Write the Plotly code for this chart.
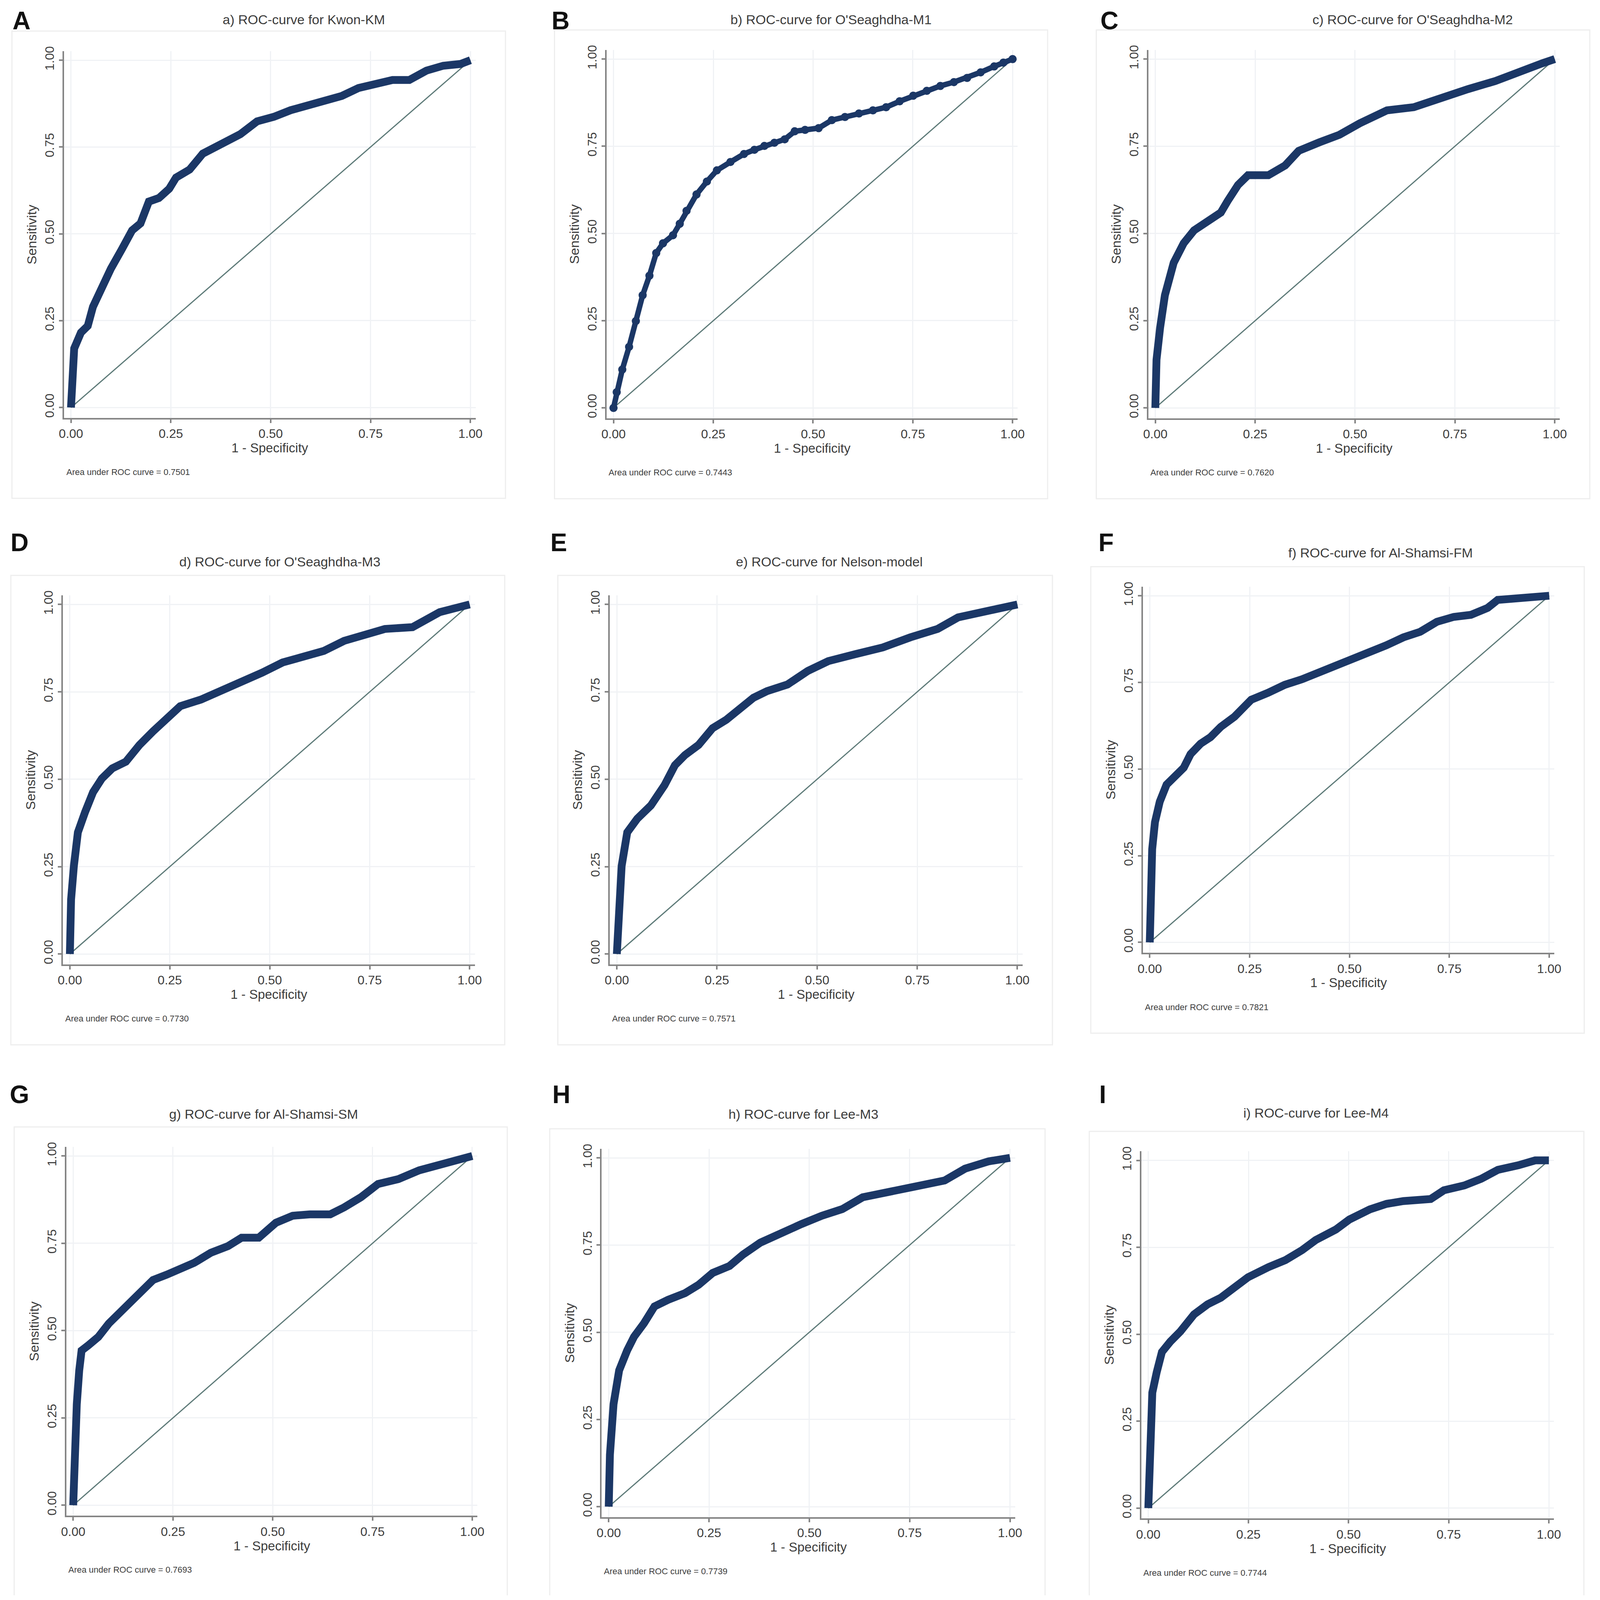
import plotly.graph_objects as go

# ---------------- data ----------------
panel_letters = ["A", "B", "C", "D", "E", "F", "G", "H", "I"]
panel_titles = [
    "a) ROC-curve for Kwon-KM",
    "b) ROC-curve for O'Seaghdha-M1",
    "c) ROC-curve for O'Seaghdha-M2",
    "d) ROC-curve for O'Seaghdha-M3",
    "e) ROC-curve for Nelson-model",
    "f) ROC-curve for Al-Shamsi-FM",
    "g) ROC-curve for Al-Shamsi-SM",
    "h) ROC-curve for Lee-M3",
    "i) ROC-curve for Lee-M4",
]
auc_values = ["0.7501", "0.7443", "0.7620", "0.7730", "0.7571", "0.7821", "0.7693", "0.7739", "0.7744"]
tick_values = [0, 0.25, 0.5, 0.75, 1.0]
tick_labels = ["0.00", "0.25", "0.50", "0.75", "1.00"]

fpr_a = [0, 0.008, 0.025, 0.042, 0.055, 0.076, 0.10, 0.127, 0.153, 0.174, 0.195, 0.22, 0.246, 0.263, 0.297, 0.33, 0.373, 0.424, 0.466, 0.508, 0.55, 0.593, 0.636, 0.678, 0.72, 0.763, 0.805, 0.847, 0.89, 0.932, 0.975, 1.0]
tpr_a = [0, 0.17, 0.216, 0.235, 0.29, 0.345, 0.40, 0.455, 0.51, 0.53, 0.593, 0.603, 0.63, 0.662, 0.685, 0.731, 0.759, 0.787, 0.824, 0.837, 0.856, 0.87, 0.888, 0.897, 0.92, 0.929, 0.943, 0.943, 0.97, 0.984, 0.989, 1.0]

fpr_b = [0, 0.008, 0.022, 0.039, 0.056, 0.073, 0.09, 0.107, 0.124, 0.149, 0.166, 0.183, 0.208, 0.234, 0.259, 0.293, 0.327, 0.353, 0.378, 0.403, 0.429, 0.454, 0.48, 0.514, 0.547, 0.58, 0.615, 0.65, 0.683, 0.717, 0.751, 0.785, 0.819, 0.853, 0.886, 0.92, 0.954, 0.977, 1.0]
tpr_b = [0, 0.045, 0.11, 0.175, 0.249, 0.323, 0.379, 0.444, 0.472, 0.495, 0.528, 0.565, 0.612, 0.649, 0.681, 0.705, 0.728, 0.74, 0.751, 0.76, 0.77, 0.793, 0.797, 0.802, 0.825, 0.834, 0.844, 0.853, 0.862, 0.879, 0.895, 0.909, 0.923, 0.934, 0.946, 0.962, 0.979, 0.99, 1.0]

fpr_c = [0, 0.003, 0.012, 0.024, 0.046, 0.071, 0.097, 0.131, 0.164, 0.181, 0.207, 0.232, 0.283, 0.325, 0.359, 0.41, 0.461, 0.512, 0.58, 0.647, 0.715, 0.783, 0.851, 0.919, 0.969, 1.0]
tpr_c = [0, 0.138, 0.23, 0.323, 0.416, 0.472, 0.509, 0.537, 0.56, 0.593, 0.639, 0.667, 0.667, 0.695, 0.737, 0.761, 0.783, 0.816, 0.853, 0.862, 0.89, 0.914, 0.937, 0.969, 0.988, 1.0]

fpr_d = [0, 0.003, 0.01, 0.02, 0.038, 0.058, 0.08, 0.106, 0.14, 0.174, 0.208, 0.242, 0.276, 0.328, 0.379, 0.43, 0.481, 0.532, 0.584, 0.635, 0.686, 0.737, 0.788, 0.857, 0.891, 0.925, 0.959, 1.0]
tpr_d = [0, 0.156, 0.252, 0.348, 0.406, 0.463, 0.502, 0.531, 0.55, 0.598, 0.637, 0.675, 0.709, 0.728, 0.752, 0.781, 0.805, 0.834, 0.853, 0.867, 0.896, 0.911, 0.93, 0.935, 0.954, 0.978, 0.988, 1.0]

fpr_e = [0, 0.005, 0.012, 0.026, 0.051, 0.085, 0.119, 0.145, 0.17, 0.204, 0.239, 0.273, 0.307, 0.341, 0.375, 0.426, 0.477, 0.528, 0.596, 0.664, 0.733, 0.801, 0.852, 0.92, 0.971, 1.0]
tpr_e = [0, 0.156, 0.252, 0.348, 0.387, 0.425, 0.483, 0.54, 0.569, 0.598, 0.646, 0.67, 0.704, 0.733, 0.752, 0.771, 0.81, 0.838, 0.858, 0.877, 0.906, 0.93, 0.963, 0.978, 0.992, 1.0]

fpr_f = [0, 0.002, 0.006, 0.013, 0.025, 0.042, 0.059, 0.085, 0.102, 0.127, 0.152, 0.178, 0.212, 0.254, 0.296, 0.338, 0.381, 0.423, 0.465, 0.508, 0.55, 0.592, 0.635, 0.677, 0.719, 0.761, 0.804, 0.846, 0.871, 0.931, 1.0]
tpr_f = [0, 0.151, 0.269, 0.347, 0.406, 0.455, 0.475, 0.504, 0.543, 0.573, 0.592, 0.622, 0.651, 0.70, 0.72, 0.743, 0.759, 0.778, 0.802, 0.822, 0.837, 0.857, 0.88, 0.896, 0.925, 0.939, 0.945, 0.965, 0.988, 0.994, 1.0]

fpr_g = [0, 0.003, 0.009, 0.015, 0.021, 0.038, 0.063, 0.089, 0.115, 0.149, 0.174, 0.20, 0.234, 0.268, 0.303, 0.345, 0.388, 0.422, 0.465, 0.508, 0.55, 0.593, 0.644, 0.679, 0.721, 0.764, 0.815, 0.867, 0.918, 0.961, 1.0]
tpr_g = [0, 0.193, 0.289, 0.385, 0.443, 0.458, 0.482, 0.52, 0.549, 0.588, 0.612, 0.645, 0.66, 0.674, 0.694, 0.723, 0.742, 0.766, 0.766, 0.809, 0.829, 0.833, 0.833, 0.853, 0.882, 0.92, 0.934, 0.959, 0.973, 0.987, 1.0]

fpr_h = [0, 0.003, 0.012, 0.026, 0.046, 0.063, 0.088, 0.114, 0.148, 0.19, 0.224, 0.259, 0.301, 0.335, 0.378, 0.429, 0.48, 0.531, 0.582, 0.633, 0.701, 0.769, 0.837, 0.888, 0.947, 1.0]
tpr_h = [0, 0.149, 0.294, 0.391, 0.448, 0.487, 0.526, 0.574, 0.593, 0.612, 0.636, 0.67, 0.69, 0.723, 0.757, 0.786, 0.81, 0.834, 0.853, 0.887, 0.902, 0.921, 0.935, 0.969, 0.99, 1.0]

fpr_i = [0, 0.002, 0.004, 0.01, 0.021, 0.034, 0.055, 0.08, 0.114, 0.148, 0.181, 0.215, 0.249, 0.30, 0.342, 0.384, 0.418, 0.468, 0.502, 0.553, 0.595, 0.637, 0.705, 0.738, 0.789, 0.831, 0.873, 0.924, 0.966, 1.0]
tpr_i = [0, 0.117, 0.234, 0.332, 0.391, 0.449, 0.479, 0.508, 0.557, 0.586, 0.605, 0.635, 0.664, 0.693, 0.713, 0.742, 0.771, 0.801, 0.83, 0.859, 0.875, 0.883, 0.889, 0.914, 0.928, 0.947, 0.973, 0.986, 1.0, 1.0]

curves = [(fpr_a, tpr_a), (fpr_b, tpr_b), (fpr_c, tpr_c), (fpr_d, tpr_d), (fpr_e, tpr_e),
          (fpr_f, tpr_f), (fpr_g, tpr_g), (fpr_h, tpr_h), (fpr_i, tpr_i)]

# ---------------- layout geometry (reference pixels, 4317 x 4382 canvas) ----------------
W, H = 4317, 4382
# pixel position of value 0 / 1 on each axis: (x at 0, x at 1, y at 1, y at 0)
frames = [
    (184, 1267, 157, 1113), (1655, 2737, 154, 1114), (3124, 4207, 154, 1114),
    (181, 1265, 1655, 2617), (1664, 2750, 1655, 2617), (3109, 4192, 1631, 2585),
    (190, 1272, 3173, 4134), (1642, 2730, 3178, 4138), (3105, 4191, 3185, 4142),
]
label_pos = [(50, 48), (1511, 48), (2999, 48), (44, 1485), (1507, 1485), (2990, 1485),
             (44, 3004), (1513, 3004), (2981, 3004)]
title_pos = [(815, 45), (2245, 45), (3822, 45), (750, 1537), (2240, 1537), (3734, 1513),
             (706, 3057), (2170, 3057), (3560, 3054)]

XR = [-0.0175, 1.013]
YR = [-0.03, 1.026]

NAVY = "#1b3766"
AXIS = "#858585"
TXT = "#3c3c3c"
FONT = "Liberation Sans, Arial, sans-serif"

fig = go.Figure()
layout = dict(
    autosize=True, margin=dict(l=0, r=0, t=0, b=0),
    paper_bgcolor="white", plot_bgcolor="white", showlegend=False,
    font=dict(family=FONT, color=TXT),
)
annotations = []
shapes = []

for i, ((fx, ty), fr) in enumerate(zip(curves, frames)):
    x0, x1, ytop, ybot = fr
    sx = x1 - x0
    sy = ybot - ytop
    dx = [(x0 + XR[0] * sx) / W, (x0 + XR[1] * sx) / W]
    dy = [1 - (ybot - YR[0] * sy) / H, 1 - (ybot - YR[1] * sy) / H]
    n = "" if i == 0 else str(i + 1)
    xa, ya = "x" + n, "y" + n
    common = dict(
        showline=True, linecolor=AXIS, linewidth=4, mirror=False,
        ticks="outside", ticklen=9, tickwidth=4, tickcolor=AXIS,
        tickvals=tick_values, ticktext=tick_labels,
        showgrid=True, gridcolor="#f0f2f5", gridwidth=3, zeroline=False,
        tickfont=dict(size=32, family=FONT, color=TXT), automargin=False,
        fixedrange=True,
    )
    layout["xaxis" + n] = dict(common, domain=dx, range=XR, anchor=ya,
                               title=dict(text="1 - Specificity", standoff=8,
                                          font=dict(size=33, family=FONT, color=TXT)))
    layout["yaxis" + n] = dict(common, domain=dy, range=YR, anchor=xa, tickangle=-90,
                               title=dict(text="Sensitivity", standoff=6,
                                          font=dict(size=34, family=FONT, color=TXT)))

    # reference diagonal
    fig.add_trace(go.Scatter(x=[0, 1], y=[0, 1], mode="lines", xaxis=xa, yaxis=ya,
                             line=dict(color="#5d7a78", width=3), hoverinfo="skip"))
    # ROC curve
    if i == 1:
        fig.add_trace(go.Scatter(x=fx, y=ty, mode="lines+markers", xaxis=xa, yaxis=ya,
                                 line=dict(color=NAVY, width=14),
                                 marker=dict(color=NAVY, size=21)))
    else:
        fig.add_trace(go.Scatter(x=fx, y=ty, mode="lines", xaxis=xa, yaxis=ya,
                                 line=dict(color=NAVY, width=20, shape="linear")))

    # faint card border
    shapes.append(dict(type="rect", xref="paper", yref="paper",
                       x0=(x0 - 160) / W, x1=(x1 + 95) / W,
                       y0=1 - (ybot + 250) / H, y1=1 - (ytop - 80) / H,
                       line=dict(color="#eeeeee", width=3), fillcolor="rgba(0,0,0,0)", layer="below"))

    # panel title
    tx, tyy = title_pos[i]
    annotations.append(dict(xref="paper", yref="paper", x=tx / W, y=1 - tyy / H,
                            text=panel_titles[i], showarrow=False,
                            xanchor="center", yanchor="middle",
                            font=dict(size=34, family=FONT, color=TXT)))
    # AUC text
    annotations.append(dict(xref="paper", yref="paper", x=(x0 - 15) / W,
                            y=1 - (ybot + 178) / H, text="Area under ROC curve = " + auc_values[i],
                            showarrow=False, xanchor="left", yanchor="middle",
                            font=dict(size=22, family=FONT, color=TXT)))
    # panel letter
    lx, ly = label_pos[i]
    annotations.append(dict(xref="paper", yref="paper", x=lx / W, y=1 - ly / H,
                            text="<b>" + panel_letters[i] + "</b>", showarrow=False,
                            xanchor="center", yanchor="middle",
                            font=dict(size=64, family=FONT, color="#111111")))

layout["annotations"] = annotations
layout["shapes"] = shapes
fig.update_layout(**layout)
fig.write_html("out.html", config={"responsive": True},
               default_width="calc(100vw - 20px)", default_height="calc(100vh - 20px)")
